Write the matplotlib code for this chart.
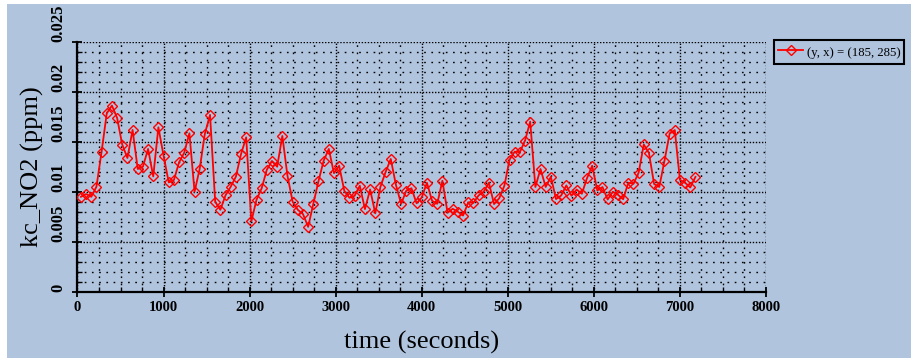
import matplotlib
matplotlib.use('Agg')
import matplotlib.pyplot as plt
from matplotlib.patches import Rectangle
from matplotlib.ticker import MultipleLocator

# ---- data ----
time_s = [40, 100, 160, 220, 280, 340, 400, 460, 520, 580, 640, 700, 760, 820, 880,
          940, 1000, 1060, 1120, 1180, 1240, 1300, 1360, 1420, 1480, 1540, 1600, 1660,
          1720, 1780, 1840, 1900, 1960, 2020, 2080, 2140, 2200, 2260, 2320, 2380, 2440,
          2500, 2560, 2620, 2680, 2740, 2800, 2860, 2920, 2980, 3040, 3100, 3160, 3220,
          3280, 3340, 3400, 3460, 3520, 3580, 3640, 3700, 3760, 3820, 3880, 3940, 4000,
          4060, 4120, 4180, 4240, 4300, 4360, 4420, 4480, 4540, 4600, 4660, 4720, 4780,
          4840, 4900, 4960, 5020, 5080, 5140, 5200, 5260, 5320, 5380, 5440, 5500, 5560,
          5620, 5680, 5740, 5800, 5860, 5920, 5980, 6040, 6100, 6160, 6220, 6280, 6340,
          6400, 6460, 6520, 6580, 6640, 6700, 6760, 6820, 6880, 6940, 7000, 7060, 7120, 7180]

kc_no2 = [0.00953, 0.00980, 0.00953, 0.01053, 0.01403, 0.01786, 0.01863, 0.01740,
          0.01473, 0.01340, 0.01620, 0.01230, 0.01253, 0.01430, 0.01156, 0.01646,
          0.01363, 0.01096, 0.01120, 0.01296, 0.01393, 0.01586, 0.01003, 0.01233,
          0.01583, 0.01770, 0.00903, 0.00823, 0.00968, 0.01053, 0.01153, 0.01378,
          0.01546, 0.00708, 0.00923, 0.01038, 0.01223, 0.01310, 0.01253, 0.01560,
          0.01160, 0.00903, 0.00823, 0.00780, 0.00653, 0.00883, 0.01108, 0.01313,
          0.01430, 0.01188, 0.01263, 0.01013, 0.00943, 0.00963, 0.01063, 0.00830,
          0.01026, 0.00788, 0.01053, 0.01200, 0.01330, 0.01071, 0.00883, 0.01013,
          0.01038, 0.00888, 0.00946, 0.01093, 0.00913, 0.00883, 0.01113, 0.00793,
          0.00833, 0.00803, 0.00766, 0.00896, 0.00893, 0.00966, 0.01003, 0.01093,
          0.00880, 0.00938, 0.01063, 0.01323, 0.01403, 0.01398, 0.01513, 0.01703,
          0.01051, 0.01230, 0.01051, 0.01153, 0.00930, 0.00966, 0.01066, 0.00963,
          0.01025, 0.00983, 0.01138, 0.01263, 0.01016, 0.01050, 0.00926, 0.01003,
          0.00973, 0.00928, 0.01093, 0.01083, 0.01193, 0.01475, 0.01388, 0.01080,
          0.01051, 0.01310, 0.01583, 0.01618, 0.01121, 0.01093, 0.01046, 0.01151]

x_ticks = [0, 1000, 2000, 3000, 4000, 5000, 6000, 7000, 8000]
x_tick_labels = ['0', '1000', '2000', '3000', '4000', '5000', '6000', '7000', '8000']
y_ticks = [0, 0.005, 0.01, 0.015, 0.02, 0.025]
y_tick_labels = ['0', '0.005', '0.01', '0.015', '0.02', '0.025']
series_label = '(y, x) = (185, 285)'
x_label = 'time (seconds)'
y_label = 'kc_NO2 (ppm)'

BG = '#B0C4DE'
W, H = 912, 358
SERIF = 'Liberation Serif'

fig = plt.figure(figsize=(W / 100, H / 100), dpi=100, facecolor='white')
fig.patches.append(Rectangle((7 / W, 0), 1, 1 - 4 / H, transform=fig.transFigure,
                             facecolor=BG, edgecolor='none', zorder=-10))

left, right, top, bottom = 77.5, 766.0, 41.7, 292.3
ax = fig.add_axes([left / W, 1 - bottom / H, (right - left) / W, (bottom - top) / H])
ax.set_facecolor(BG)

ax.plot(time_s, kc_no2, color='#FF0000', lw=1.3, marker='D', ms=4.8,
        mfc='none', mec='#FF0000', mew=1.0, label=series_label, zorder=5)

ax.set_xlim(0, 8000)
ax.set_ylim(0, 0.025)
ax.set_xticks(x_ticks)
ax.set_xticklabels(x_tick_labels, family=SERIF, fontsize=10.5, fontweight='bold')
ax.set_yticks(y_ticks)
ax.set_yticklabels(y_tick_labels, family=SERIF, fontsize=12, fontweight='bold')
ax.xaxis.set_minor_locator(MultipleLocator(250))
ax.yaxis.set_minor_locator(MultipleLocator(0.001))

ax.grid(which='major', color='black', linestyle=(0, (1, 1.2)), linewidth=1.0)
ax.grid(which='minor', color='black', linestyle=(0, (1.2, 4)), linewidth=1.0)
ax.set_axisbelow(True)

for s in ['top', 'right']:
    ax.spines[s].set_visible(False)
for s in ['left', 'bottom']:
    ax.spines[s].set_linewidth(1.6)

ax.tick_params(which='major', direction='inout', length=7, width=1.3)
ax.tick_params(which='minor', direction='in', length=3.5, width=1.0)
ax.tick_params(axis='x', which='major', pad=3.0)
ax.tick_params(axis='y', which='major', pad=4.5)
for lab in ax.get_yticklabels():
    lab.set_rotation(90)
    lab.set_va('bottom')
    lab.set_ha('right')

ax.set_ylabel(y_label, family=SERIF, fontsize=19)
ax.yaxis.set_label_coords(-0.048, 0.5)
ax.set_xlabel(x_label, family=SERIF, fontsize=19)
ax.xaxis.set_label_coords(0.5, -0.155)

leg = ax.legend(loc='upper left', bbox_to_anchor=(774 / W, 1 - 40 / H),
                bbox_transform=fig.transFigure, borderaxespad=0, frameon=True,
                fancybox=False, edgecolor='black', facecolor=BG, framealpha=1,
                prop={'family': SERIF, 'size': 9.2}, handlelength=2.0,
                handleheight=1.6, handletextpad=0.25, borderpad=0.3)
leg.get_frame().set_linewidth(1.5)

fig.savefig('out.png', dpi=100, facecolor=fig.get_facecolor())
